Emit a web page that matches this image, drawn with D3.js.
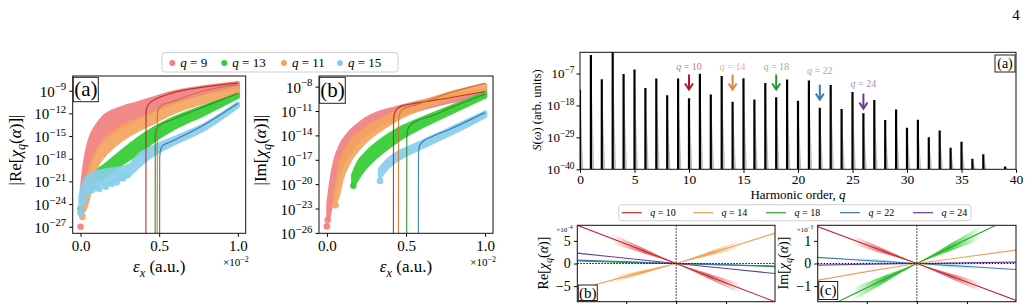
<!DOCTYPE html>
<html><head><meta charset="utf-8">
<script src="https://cdn.jsdelivr.net/npm/d3@7/dist/d3.min.js"></script>
<style>
body{margin:0;background:#fff;}
svg text{font-family:'Liberation Serif','Times New Roman',serif;}
</style></head>
<body><svg id="fig" width="1029" height="304" font-family="Liberation Serif, serif"></svg>
<script>
// ================= DATA =================
// Left panels: scatter series (legend order) and colours
const scatterLabels = ['9','13','11','15'];
const scatterColors = ['#f08080','#32cd32','#f4a460','#87ceeb'];
const lineColors    = ['#b22222','#228b22','#cc6f28','#2c6fad'];

// Panel (a) |Re chi_q| bands: [eps_x (x1e-2), lower log10, upper log10]
const reBandQ9  = [[0.01,-23.9,-21.8],[0.03,-21.0,-18.4],[0.06,-18.4,-15.5],[0.1,-16.6,-13.8],[0.15,-15.3,-12.45],[0.25,-13.9,-11.4],[0.36,-12.7,-10.7],[0.47,-11.6,-10.0],[0.57,-10.7,-9.35],[0.79,-9.25,-8.55],[1.0,-8.45,-8.0]];
const reBandQ13 = [[0.08,-20.9,-19.9],[0.15,-20.4,-19.0],[0.25,-18.8,-17.3],[0.36,-17.3,-15.5],[0.47,-15.5,-14.0],[0.57,-14.2,-12.9],[0.79,-12.0,-11.1],[1.0,-9.8,-9.35]];
const reBandQ11 = [[0.02,-24.8,-23.9],[0.04,-23.8,-21.2],[0.06,-22.0,-19.6],[0.1,-19.0,-17.3],[0.15,-17.5,-15.75],[0.25,-15.6,-14.0],[0.36,-14.2,-12.9],[0.47,-13.1,-12.0],[0.57,-12.0,-11.1],[0.79,-10.45,-9.8],[1.0,-9.13,-8.7]];
const reBandQ15 = [[0.0,-25.4,-23.0],[0.02,-23.0,-21.3],[0.06,-21.7,-20.2],[0.15,-21.3,-19.6],[0.25,-20.7,-19.3],[0.32,-19.9,-18.8],[0.36,-19.1,-17.8],[0.47,-17.3,-16.4],[0.57,-16.2,-15.5],[0.79,-14.0,-13.5],[1.0,-11.0,-10.7]];
const reDotsQ9  = [[0.0,-27.0],[0.008,-24.9]];
const reDotsQ13 = [[0.0,-24.6]];
const reDotsQ11 = [[0.012,-25.7]];
const reDotsQ15 = [[0.0,-25.2],[0.02,-23.6],[0.04,-22.6],[0.07,-22.2],[0.09,-21.9],[0.12,-22.0],[0.16,-21.7],[0.2,-21.3],[0.23,-21.1],[0.27,-20.6],[0.3,-20.2]];
// Panel (a) fitted curves: [eps_x, log10]
const reLineQ9  = [[0.415,-40],[0.416,-12.3],[0.42,-11.3],[0.44,-10.6],[0.47,-10.2],[0.574,-9.35],[0.787,-8.5],[1.0,-8.0]];
const reLineQ13 = [[0.474,-40],[0.475,-15.2],[0.48,-14.2],[0.5,-13.6],[0.574,-12.9],[0.787,-11.1],[1.0,-9.35]];
const reLineQ11 = [[0.487,-40],[0.488,-12.6],[0.492,-11.6],[0.51,-11.0],[0.574,-10.5],[0.787,-9.0],[1.0,-8.15]];
const reLineQ15 = [[0.502,-40],[0.503,-18.0],[0.507,-17.0],[0.52,-16.3],[0.574,-15.75],[0.787,-13.5],[1.0,-10.7]];
const reYTicks = [-9,-12,-15,-18,-21,-24,-27];

// Panel (b) |Im chi_q|
const imBandQ9  = [[0.01,-24.0,-22.5],[0.03,-22.1,-19.5],[0.05,-20.3,-17.4],[0.09,-17.8,-15.2],[0.135,-16.2,-13.9],[0.24,-13.9,-12.1],[0.35,-12.5,-11.1],[0.43,-11.7,-10.7],[0.56,-10.9,-10.05],[0.77,-9.85,-9.2],[1.0,-8.9,-8.5]];
const imBandQ13 = [[0.167,-20.1,-18.85],[0.2,-19.05,-17.4],[0.24,-18.0,-16.4],[0.35,-16.0,-14.55],[0.45,-14.55,-13.3],[0.56,-13.3,-12.3],[0.77,-11.3,-10.65],[1.0,-9.2,-8.9]];
const imBandQ11 = [[0.05,-22.3,-21.5],[0.07,-21.3,-19.5],[0.09,-19.5,-17.4],[0.135,-17.4,-15.4],[0.24,-14.75,-13.3],[0.35,-13.1,-12.1],[0.45,-11.9,-11.1],[0.56,-10.9,-10.25],[0.77,-9.4,-8.9],[1.0,-8.2,-7.8]];
const imBandQ15 = [[0.336,-19.0,-18.2],[0.39,-17.8,-17.0],[0.45,-16.9,-16.2],[0.56,-15.8,-15.2],[0.77,-13.9,-13.3],[1.0,-11.6,-11.2]];
const imDotsQ9  = [[0.0,-25.2],[0.005,-24.4]];
const imDotsQ13 = [[0.167,-20.2]];
const imDotsQ11 = [[0.055,-22.6]];
const imDotsQ15 = [[0.336,-19.6]];
const imLineQ9  = [[0.42,-40],[0.421,-12.5],[0.425,-11.5],[0.44,-10.8],[0.47,-10.4],[0.56,-10.05],[0.77,-9.4],[1.0,-8.6]];
const imLineQ13 = [[0.504,-40],[0.505,-14.3],[0.51,-13.3],[0.53,-12.7],[0.56,-12.3],[0.66,-11.6],[0.77,-10.7],[1.0,-8.9]];
const imLineQ11 = [[0.452,-40],[0.453,-12.5],[0.457,-11.5],[0.47,-11.0],[0.5,-10.6],[0.56,-10.25],[0.77,-8.8],[1.0,-7.6]];
const imLineQ15 = [[0.578,-40],[0.579,-16.3],[0.585,-15.3],[0.61,-14.7],[0.66,-14.2],[0.77,-13.3],[1.0,-11.2]];
const imYTicks = [-8,-11,-14,-17,-20,-23,-26];
const epsTicks = [0.0,0.5,1.0];

// Right top: HHG spectrum peak heights (log10 S) per harmonic order
const harmonics = [0,1,2,3,4,5,6,7,8,9,10,11,12,13,14,15,16,17,18,19,20,21,22,23,24,25,26,27,28,29,30,31,32,33,34,35,36,37,38,39];
const peakLog   = [-12.6,-0.6,-9.0,1.0,-7.2,-5.6,-12.0,-8.7,-14.5,-8.7,-15.5,-7.1,-14.2,-7.9,-16.7,-8.6,-16.0,-10.3,-15.2,-9.1,-16.4,-9.4,-18.8,-11.0,-19.2,-13.4,-20.7,-16.1,-23.0,-19.4,-25.7,-22.9,-29.0,-26.6,-32.6,-30.5,-36.4,-34.8,-42.0,-39.0];
const specXTicks = [0,5,10,15,20,25,30,35,40];
const specYTicks = [-40,-29,-18,-7];
const arrowOrders   = [10,14,18,22,26];
const arrowLabels   = ['10','14','18','22','24'];
const arrowTipLog   = [-12.5,-12.5,-12.5,-16.0,-19.1];
const arrowLabelLog = [-4.5,-4.5,-4.5,-6.1,-10.5];
const arrowColors   = ['#b2182b','#dd8434','#1e9a2c','#3a7bbf','#6a3d9a'];

// Right bottom: chi_q vs alpha (linear), values at alpha grid
const alphaGrid = [-1,-0.5,0,0.5,1];
const bottomLabels = ['10','14','18','22','24'];
const bottomColors = ['#c0272d','#f0a050','#2ca02c','#3a78b0','#6a3d9a'];
const reChiQ10 = [8.55,4.3,0,-4.3,-8.55];
const reChiQ14 = [-5.8,-2.85,0,3.3,6.8];
const reChiQ18 = [0.55,0.25,0,-0.3,-0.7];
const reChiQ22 = [0.75,0.35,0,-0.28,-0.55];
const reChiQ24 = [2.3,1.15,0,-1.1,-2.25];
const imChiQ10 = [1.65,0.82,0,-0.82,-1.65];
const imChiQ14 = [-0.75,-0.36,0,0.3,0.6];
const imChiQ18 = [-2.15,-1.07,0,1.07,2.15];
const imChiQ22 = [0.27,0.13,0,-0.13,-0.27];
const imChiQ24 = [-0.07,-0.03,0,0.03,0.06];
const reChiTicks = [-5,0,5];
const imChiTicks = [-1,0,1];
const alphaTicks = [-0.5,0,0.5];

// ================= HELPERS =================
const SERIF = "'Liberation Serif','Times New Roman',serif";
const svg = d3.select('#fig');
const defs = svg.append('defs');
const MINUS = '\u2212';
function rich(t, segs, size){
  let shift = 0;
  segs.forEach(s=>{
    const target = s.sub ? size*0.28 : (s.sup ? -size*0.42 : 0);
    const ts = t.append('tspan').text(s.t);
    if (target - shift !== 0) ts.attr('dy', target - shift);
    shift = target;
    if (s.it) ts.attr('font-style','italic');
    if (s.sub || s.sup) ts.attr('font-size', size*0.72);
  });
  return t;
}
function txt(p,x,y,size,anchor){ return p.append('text').attr('x',x).attr('y',y).attr('font-size',size).attr('font-family',SERIF).attr('text-anchor',anchor||'start'); }
function pow10(p,x,y,e,size,anchor){ return rich(txt(p,x,y,size,anchor),[{t:'10'},{t:(e<0?MINUS:'')+Math.abs(e),sup:true}],size); }
function qLabel(p,x,y,v,size,anchor){ return rich(txt(p,x,y,size,anchor),[{t:'q',it:true},{t:' = '+v}],size); }
function rotLabel(p,cx,cy,segs,size){ const t=p.append('text').attr('transform',`translate(${cx},${cy}) rotate(-90)`).attr('text-anchor','middle').attr('font-family',SERIF).attr('font-size',size); return rich(t,segs,size); }
function tag(p,x,y,w,h,label,size){
  p.append('rect').attr('x',x).attr('y',y).attr('width',w).attr('height',h).attr('fill','#fff').attr('stroke','#222').attr('stroke-width',1);
  txt(p,x+w/2,y+h/2+size*0.32,size,'middle').text(label);
}
function clip(id,x0,y0,x1,y1){ defs.append('clipPath').attr('id',id).append('rect').attr('x',x0).attr('y',y0).attr('width',x1-x0).attr('height',y1-y0); }
function frame(p,x0,y0,x1,y1){ p.append('rect').attr('x',x0).attr('y',y0).attr('width',x1-x0).attr('height',y1-y0).attr('fill','none').attr('stroke','#111').attr('stroke-width',1); }
function styleAxis(a,size){ a.attr('font-family',SERIF); a.select('.domain').remove(); a.selectAll('text').attr('font-family',SERIF).attr('font-size',size); }

// ================= LEFT PANELS =================
function leftPanel(o){
  const g = svg.append('g');
  const x = d3.scaleLinear([-0.05,1.05],[o.x0,o.x1]);
  const y = d3.scaleLinear(o.dom,[o.y1,o.y0]);
  clip(o.id,o.x0,o.y0,o.x1,o.y1);
  const pg = g.append('g').attr('clip-path',`url(#${o.id})`);
  const area = d3.area().x(d=>x(d[0])).y0(d=>y(d[1])).y1(d=>y(d[2])).curve(d3.curveMonotoneX);
  o.bands.forEach((b,i)=>{
    pg.append('path').datum(b).attr('d',area).attr('fill',scatterColors[i]).attr('stroke',scatterColors[i])
      .attr('stroke-width',4.5).attr('stroke-linejoin','round').attr('opacity',0.92);
    pg.selectAll(null).data(o.dots[i]).enter().append('circle')
      .attr('cx',d=>x(d[0])).attr('cy',d=>y(d[1])).attr('r',3.3).attr('fill',scatterColors[i]).attr('opacity',0.92);
  });
  const line = d3.line().x(d=>x(d[0])).y(d=>y(d[1])).curve(d3.curveMonotoneX);
  o.lines.forEach((l,i)=>{
    pg.append('path').datum(l).attr('d',line).attr('fill','none').attr('stroke',lineColors[i]).attr('stroke-width',1.2).attr('opacity',0.85);
  });
  // axes
  g.append('g').attr('transform',`translate(${o.x0},0)`)
    .call(d3.axisLeft(y).tickValues(o.yticks).tickSize(3.5).tickFormat(''))
    .call(a=>styleAxis(a,15));
  o.yticks.forEach(v=>pow10(g,o.x0-6.5,y(v)+6,v,15,'end'));
  g.append('g').attr('transform',`translate(0,${o.y1})`)
    .call(d3.axisBottom(x).tickValues(epsTicks).tickSize(3.5).tickPadding(4).tickFormat(d3.format('.1f')))
    .call(a=>styleAxis(a,15));
  rich(txt(g,o.x1+3,o.y1+33,11,'end'),[{t:'\u00d710'},{t:MINUS+'2',sup:true}],11);
  rich(txt(g,(o.x0+o.x1)/2,o.y1+39,17,'middle'),[{t:'\u03b5',it:true},{t:'x',it:true,sub:true},{t:' (a.u.)'}],17);
  rotLabel(g,o.ylx,150,[{t:'|'+o.part+'['},{t:'\u03c7',it:true},{t:'q',it:true,sub:true},{t:'('},{t:'\u03b1',it:true},{t:')]|'}],17);
  frame(g,o.x0,o.y0,o.x1,o.y1);
  tag(g,o.x0+0.6,o.y0+1.3,o.tagW,o.tagH,o.tag,21);
}

leftPanel({id:'clipA',x0:72.7,x1:245.7,y0:76,y1:233.3,dom:[-27.87,-7.05],yticks:reYTicks,
  bands:[reBandQ9,reBandQ13,reBandQ11,reBandQ15],dots:[reDotsQ9,reDotsQ13,reDotsQ11,reDotsQ15],
  lines:[reLineQ9,reLineQ13,reLineQ11,reLineQ15],part:'Re',ylx:20.5,tag:'(a)',tagW:25,tagH:24.4});
leftPanel({id:'clipB',x0:319,x1:493,y0:76,y1:233.3,dom:[-26.05,-6.69],yticks:imYTicks,
  bands:[imBandQ9,imBandQ13,imBandQ11,imBandQ15],dots:[imDotsQ9,imDotsQ13,imDotsQ11,imDotsQ15],
  lines:[imLineQ9,imLineQ13,imLineQ11,imLineQ15],part:'Im',ylx:266,tag:'(b)',tagW:25.7,tagH:26});

// top legend
(function(){
  const g = svg.append('g');
  g.append('rect').attr('x',162).attr('y',52.5).attr('width',236).attr('height',19.5).attr('rx',3)
    .attr('fill','#fff').attr('stroke','#d0d0d0').attr('stroke-width',1);
  const dotX = [172.3,224.3,284,340];
  scatterLabels.forEach((l,i)=>{
    g.append('circle').attr('cx',dotX[i]).attr('cy',63).attr('r',3).attr('fill',scatterColors[i]);
    qLabel(g,dotX[i]+8,67,l,13,'start');
  });
})();

// ================= SPECTRUM =================
(function(){
  const X0=580,X1=1016,Y0=52.3,Y1=169.3;
  const g = svg.append('g');
  const xs = d3.scaleLinear([0,40],[X0,X1]);
  const ys = d3.scaleLinear([-40,0.3],[Y1,Y0]);
  clip('clipS',X0,Y0,X1,Y1);
  const pg = g.append('g').attr('clip-path','url(#clipS)');
  const spikes = harmonics.map((h,i)=>({h:h,v:peakLog[i]})).filter(d=>d.v>-40);
  pg.selectAll('path.sh').data(spikes).enter().append('path')
    .attr('d',d=>`M${xs(d.h)},${ys(-40)}L${xs(d.h)},${ys(d.v)}L${xs(d.h+0.3)},${ys(-40)}Z`)
    .attr('fill','#8a8a8a').attr('opacity',0.55);
  pg.selectAll('line.sp').data(spikes).enter().append('line')
    .attr('x1',d=>xs(d.h)).attr('x2',d=>xs(d.h)).attr('y1',ys(-40)).attr('y2',d=>ys(d.v))
    .attr('stroke','#000').attr('stroke-width',2.2);
  g.append('g').attr('transform',`translate(0,${Y1})`)
    .call(d3.axisBottom(xs).tickValues(specXTicks).tickSize(3.5).tickPadding(1.5))
    .call(a=>styleAxis(a,13.5));
  g.append('g').attr('transform',`translate(${X0},0)`)
    .call(d3.axisLeft(ys).tickValues(specYTicks).tickSize(3.5).tickFormat(''))
    .call(a=>styleAxis(a,13));
  specYTicks.forEach(v=>pow10(g,X0-5.5,ys(v)+5,v,13,'end'));
  rich(txt(g,798,198.5,13,'middle'),[{t:'Harmonic order, '},{t:'q',it:true}],13);
  rotLabel(g,541,110,[{t:'S',it:true},{t:'('},{t:'\u03c9',it:true},{t:') (arb. units)'}],12.5);
  arrowOrders.forEach((q,i)=>{
    const c = arrowColors[i], xa = xs(q), tip = ys(arrowTipLog[i]);
    g.append('line').attr('x1',xa).attr('x2',xa).attr('y1',tip-15).attr('y2',tip-1).attr('stroke',c).attr('stroke-width',2);
    g.append('path').attr('d',`M${xa-4},${tip-6}L${xa},${tip}L${xa+4},${tip-6}`).attr('fill','none').attr('stroke',c).attr('stroke-width',2);
    qLabel(g,xa,ys(arrowLabelLog[i])+3.5,arrowLabels[i],10,'middle').attr('fill',c).attr('fill-opacity',0.65);
  });
  frame(g,X0,Y0,X1,Y1);
  tag(g,995,55,20,17,'(a)',14);
})();

// page number
txt(svg,1016,20,15,'middle').text('4');

// ================= BOTTOM PANELS =================
function bottomPanel(o){
  const Y0=225.3,Y1=301.7;
  const g = svg.append('g');
  const x = d3.scaleLinear([-0.99,0.99],[o.x0,o.x1]);
  const y = d3.scaleLinear([-o.lim,o.lim],[Y1,Y0]);
  clip(o.id,o.x0,Y0,o.x1,Y1);
  const pg = g.append('g').attr('clip-path',`url(#${o.id})`);
  // fans (ensemble spread)
  o.fans.forEach((f,k)=>{
    const vals = o.series[f.i];
    const interp = d3.scaleLinear(alphaGrid, vals);
    const gid = o.id+'g'+k;
    const gr = defs.append('linearGradient').attr('id',gid).attr('gradientUnits','userSpaceOnUse')
      .attr('x1',x(-0.65)).attr('x2',x(0.65)).attr('y1',0).attr('y2',0);
    [[0,0],[0.25,1],[0.5,0.8],[0.75,1],[1,0]].forEach(s=>gr.append('stop').attr('offset',s[0]).attr('stop-color',f.c).attr('stop-opacity',s[1]*f.op));
    const pts = d3.range(-0.65,0.6501,0.025);
    pg.append('path').datum(pts)
      .attr('d',d3.area().x(d=>x(d)).y0(d=>y(interp(d)*(1-f.s))).y1(d=>y(interp(d)*(1+f.s))))
      .attr('fill',`url(#${gid})`);
  });
  const line = d3.line().x((d,i)=>x(alphaGrid[i])).y(d=>y(d));
  o.order.forEach(i=>{
    pg.append('path').datum(o.series[i]).attr('d',line).attr('fill','none').attr('stroke',bottomColors[i]).attr('stroke-width',1.1);
  });
  // zero lines
  g.append('line').attr('x1',x(0)).attr('x2',x(0)).attr('y1',Y0).attr('y2',Y1).attr('stroke','#111').attr('stroke-width',1).attr('stroke-dasharray','1.5,1.5');
  g.append('line').attr('x1',o.x0).attr('x2',o.x1).attr('y1',y(0)).attr('y2',y(0)).attr('stroke','#111').attr('stroke-width',1).attr('stroke-dasharray','1.5,1.5');
  g.append('g').attr('transform',`translate(${o.x0},0)`)
    .call(d3.axisLeft(y).tickValues(o.ticks).tickSize(3.5).tickPadding(3).tickFormat(d=>d<0?MINUS+(-d):String(d)))
    .call(a=>styleAxis(a,14));
  g.append('g').attr('transform',`translate(0,${Y1})`)
    .call(d3.axisBottom(x).tickValues(alphaTicks).tickSize(3.5).tickFormat(''))
    .call(a=>styleAxis(a,14));
  rich(txt(g,o.x0-21,232,7,'start'),[{t:'\u00d710'},{t:MINUS+o.exp,sup:true}],7);
  rotLabel(g,o.ylx,263,[{t:o.part+'['},{t:'\u03c7',it:true},{t:'q',it:true,sub:true},{t:'('},{t:'\u03b1',it:true},{t:')]'}],14);
  frame(g,o.x0,Y0,o.x1,Y1);
  tag(g,o.x0+1,o.tagY,19,o.tagH,o.tag,15);
}
bottomPanel({id:'clipRe',x0:577.3,x1:775,lim:8.45,ticks:reChiTicks,exp:'4',part:'Re',ylx:548,
  series:[reChiQ10,reChiQ14,reChiQ18,reChiQ22,reChiQ24],order:[2,3,4,1,0],
  fans:[{i:3,c:'#87ceeb',s:0.9,op:0.7},{i:0,c:'#e0404a',s:0.2,op:0.75},{i:1,c:'#f4a050',s:0.2,op:0.85}],
  tag:'(b)',tagY:285,tagH:15.5});
bottomPanel({id:'clipIm',x0:817.7,x1:1016,lim:1.69,ticks:imChiTicks,exp:'3',part:'Im',ylx:788,
  series:[imChiQ10,imChiQ14,imChiQ18,imChiQ22,imChiQ24],order:[3,4,1,2,0],
  fans:[{i:3,c:'#87ceeb',s:0.8,op:0.6},{i:4,c:'#b59ad8',s:1.2,op:0.6},{i:0,c:'#e0404a',s:0.2,op:0.75},{i:2,c:'#32cd32',s:0.22,op:0.9}],
  tag:'(c)',tagY:281.5,tagH:18});

// bottom legend
(function(){
  const g = svg.append('g');
  g.append('rect').attr('x',618.7).attr('y',204.7).attr('width',352.3).attr('height',16).attr('rx',3)
    .attr('fill','#fff').attr('stroke','#d0d0d0').attr('stroke-width',1);
  const lx = [621.7,693,766,840,913];
  bottomLabels.forEach((l,i)=>{
    g.append('line').attr('x1',lx[i]).attr('x2',lx[i]+20).attr('y1',212.7).attr('y2',212.7).attr('stroke',bottomColors[i]).attr('stroke-width',1.2);
    qLabel(g,lx[i]+28.5,216,l,10,'start');
  });
})();
</script></body></html>
